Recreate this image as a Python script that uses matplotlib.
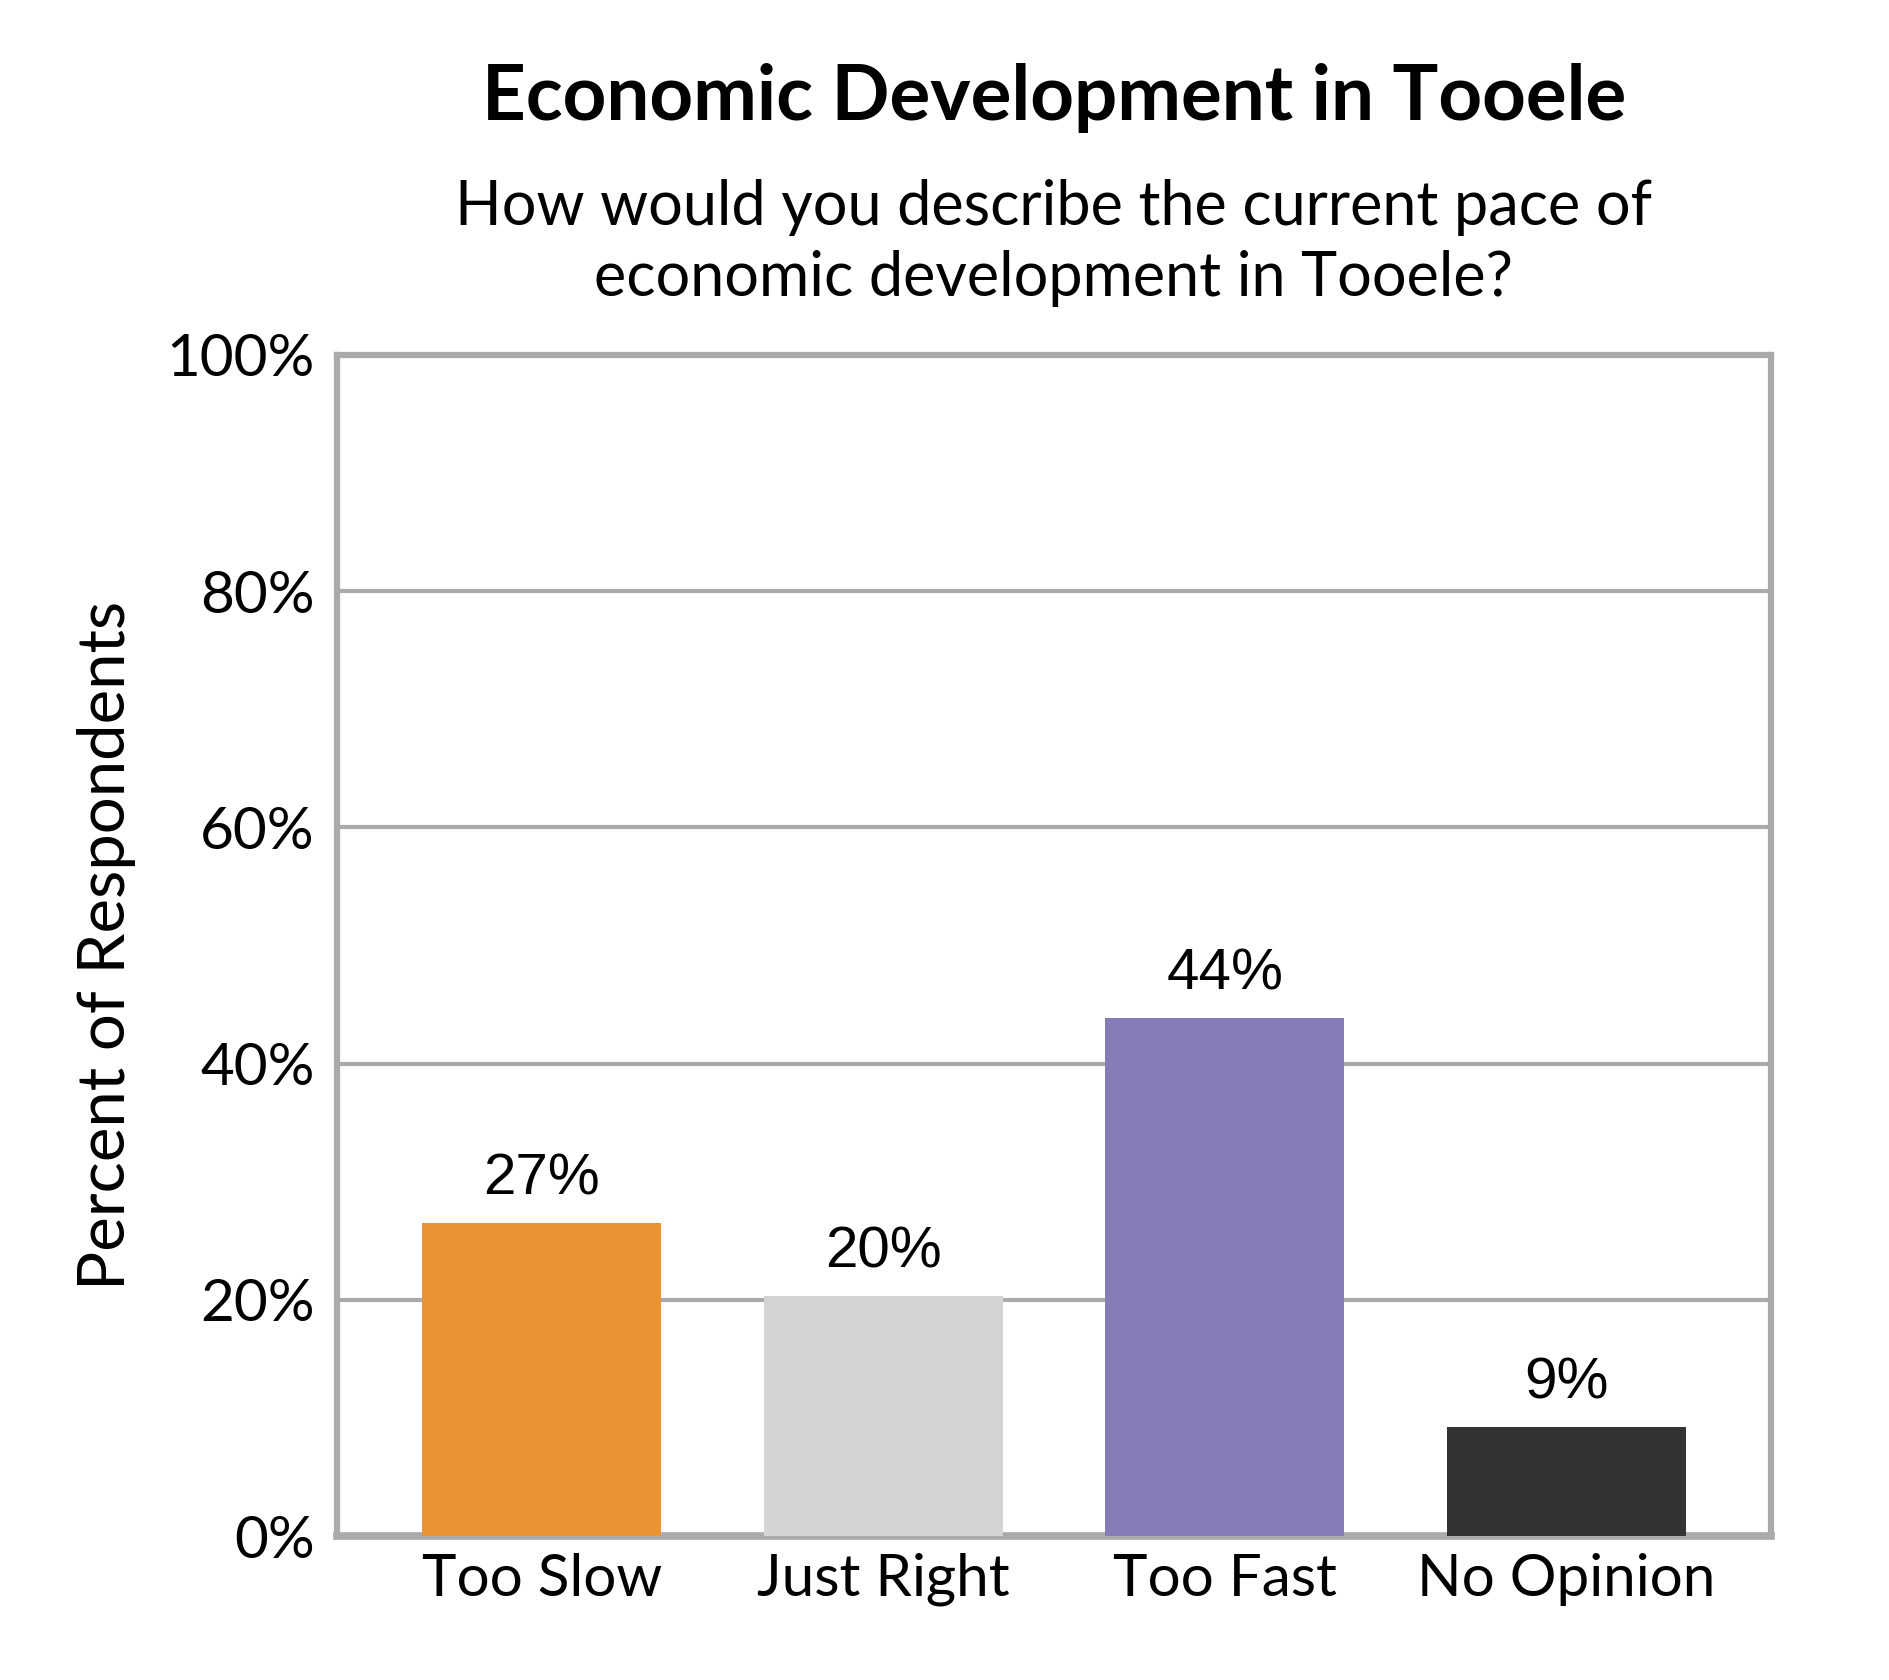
import matplotlib
matplotlib.use("Agg")
import matplotlib.pyplot as plt
from matplotlib.ticker import FuncFormatter

categories = ["Too Slow", "Just Right", "Too Fast", "No Opinion"]
values = [26.5, 20.3, 43.9, 9.2]
value_labels = ["27%", "20%", "44%", "9%"]
colors = ["#EB9234", "#D4D4D4", "#877CB5", "#333333"]
yticks = [0, 20, 40, 60, 80, 100]

plt.rcParams['font.family'] = ['Lato', 'DejaVu Sans']

W, H = 1890, 1680
L, R, T, B = 337, 1771, 355, 1536

fig = plt.figure(figsize=(W/100, H/100), dpi=100)
ax = fig.add_axes([L/W, 1-B/H, (R-L)/W, (B-T)/H])

x = range(len(categories))
ax.bar(x, values, width=0.7, color=colors, zorder=3)
ax.set_xlim(-0.6, 3.6)
ax.set_ylim(0, 100)
ax.set_yticks(yticks)
ax.yaxis.set_major_formatter(FuncFormatter(lambda v, p: f"{int(v)}%"))
ax.set_xticks(list(x))
ax.set_xticklabels(categories)
ax.tick_params(axis='both', length=0, labelsize=42, colors='black')
ax.tick_params(axis='x', pad=12)
ax.tick_params(axis='y', pad=16)
ax.grid(axis='y', color='#AAAAAA', linewidth=3, zorder=1)
for s in ax.spines.values():
    s.set_color('#AAAAAA')
    s.set_linewidth(4.5)
ax.spines['bottom'].set_linewidth(5.5)

for xi, v, lab in zip(x, values, value_labels):
    ax.text(xi, v + 1.4, lab, ha='center', va='bottom', fontsize=42,
            family=['Liberation Sans', 'DejaVu Sans'])

ax.set_ylabel("Percent of Respondents", fontsize=47, labelpad=22)

fig.text((L+R)/2/W, 1-98/H, "Economic Development in Tooele",
         ha='center', va='center', fontsize=55, fontweight='bold')
fig.text((L+R)/2/W, 1-243/H,
         "How would you describe the current pace of\neconomic development in Tooele?",
         ha='center', va='center', fontsize=44, linespacing=1.3)

fig.savefig("out.png", dpi=100, facecolor='white')
